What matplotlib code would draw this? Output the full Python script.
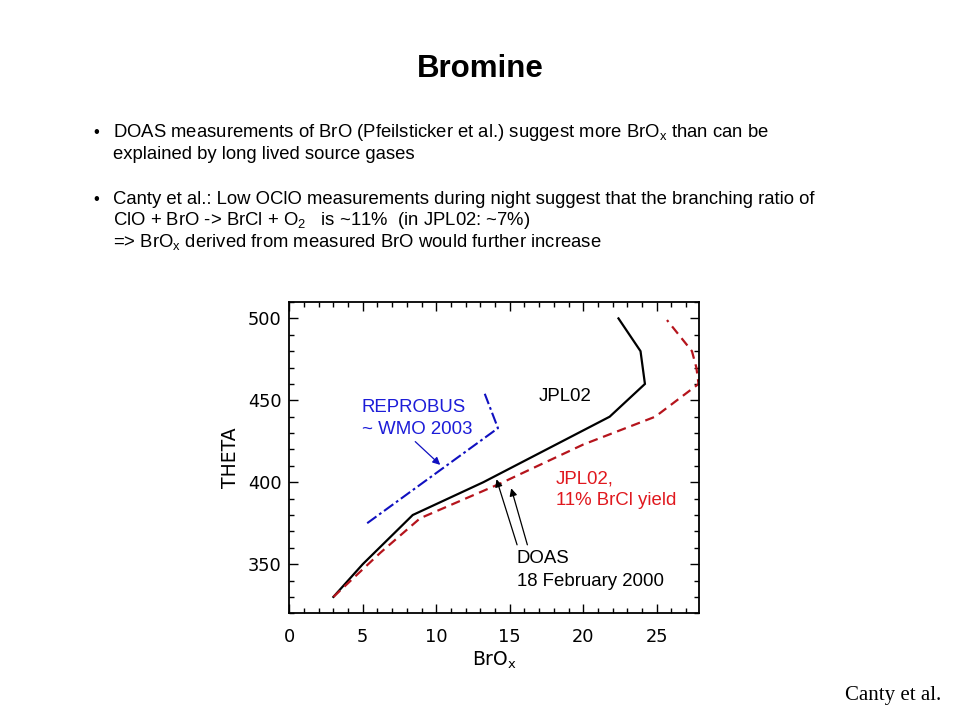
import matplotlib
matplotlib.use("Agg")
import matplotlib.pyplot as plt
from matplotlib.ticker import MultipleLocator

# ---- data ----
jpl_x = [3.0, 5.0, 8.4, 13.2, 17.5, 21.8, 24.2, 23.9, 22.4]
jpl_y = [330, 350, 380, 400, 420, 440, 460, 480, 500]

brcl_x = [3.0, 6.2, 8.9, 14.3, 20.0, 24.9, 27.85, 27.7, 27.4, 25.7]
brcl_y = [330, 357, 378, 399, 423, 440, 460, 470, 480, 499]

reprobus_x = [5.3, 14.2, 13.3]
reprobus_y = [375, 433, 454]

x_ticks = [0, 5, 10, 15, 20, 25]
y_ticks = [350, 400, 450, 500]

title = "Bromine"
bullet_lines = [
    "DOAS measurements of BrO (Pfeilsticker et al.) suggest more BrO$_\\mathregular{x}$ than can be",
    "explained by long lived source gases",
    "Canty et al.: Low OClO measurements during night suggest that the branching ratio of",
    "ClO + BrO -> BrCl + O$_\\mathregular{2}$   is ~11%  (in JPL02: ~7%)",
    "=> BrO$_\\mathregular{x}$ derived from measured BrO would further increase",
]

SANS = "Liberation Sans"

fig = plt.figure(figsize=(9.6, 7.2), dpi=100)
fig.patch.set_facecolor("white")

# Title
fig.text(480 / 960, 1 - 77.3 / 720, title, ha="center", va="baseline",
         fontsize=22.5, fontweight="bold", family=SANS)

# Bullets
baselines = [137.3, 158.7, 204.0, 225.3, 247.3]
for i, (line, yb) in enumerate(zip(bullet_lines, baselines)):
    fig.text(113 / 960, 1 - yb / 720, line, ha="left", va="baseline",
             fontsize=13.3, family=SANS)
for yb in (baselines[0], baselines[2]):
    fig.text(96.5 / 960, 1 - yb / 720, "\u2022", ha="center", va="baseline",
             fontsize=12, family=SANS)

# Source
fig.text(845 / 960, 1 - 700 / 720, "Canty et al.", ha="left", va="baseline",
         fontsize=15, family="Liberation Serif")

# Axes
left, right, top, bottom = 289.3, 699.3, 301.7, 613.3
ax = fig.add_axes([left / 960, 1 - bottom / 720, (right - left) / 960, (bottom - top) / 720])
ax.set_xlim(0, 27.9)
ax.set_ylim(320, 510.2)

ax.plot(jpl_x, jpl_y, color="black", lw=1.6, solid_joinstyle="miter")
ax.plot(brcl_x, brcl_y, color="#b5141c", lw=1.6, dashes=(4.2, 2.6))
ax.plot(reprobus_x, reprobus_y, color="#1010c0", lw=1.5, dashes=(5.5, 1.6, 1.3, 1.6))

ax.set_xticks(x_ticks)
ax.set_yticks(y_ticks)
ax.xaxis.set_minor_locator(MultipleLocator(1))
ax.yaxis.set_minor_locator(MultipleLocator(10))
ax.tick_params(which="both", direction="in", top=True, right=True, width=1.0, colors="black")
ax.tick_params(which="major", length=6.5)
ax.tick_params(which="minor", length=3.5)
ax.tick_params(axis="x", which="major", pad=10.5, labelsize=12.8)
ax.tick_params(axis="y", which="major", pad=5.5, labelsize=12.8)
for sp in ax.spines.values():
    sp.set_linewidth(1.3)

ax.set_ylabel("THETA", fontsize=13.5, labelpad=6)
ax.set_xlabel("BrO$_\\mathregular{x}$", fontsize=13.5, labelpad=2.5)

# Annotations
tfs = 13.4
blue_txt = "#1c1cd8"
red_txt = "#e0181e"
ax.text(4.92, 443.0, "REPROBUS", color=blue_txt, fontsize=tfs, family=SANS, va="baseline")
ax.text(4.92, 429.5, "~ WMO 2003", color=blue_txt, fontsize=tfs, family=SANS, va="baseline")
ax.text(16.95, 449.6, "JPL02", color="black", fontsize=tfs, family=SANS, va="baseline")
ax.text(18.15, 399.4, "JPL02,", color=red_txt, fontsize=tfs, family=SANS, va="baseline")
ax.text(18.15, 386.2, "11% BrCl yield", color=red_txt, fontsize=tfs, family=SANS, va="baseline")
ax.text(15.47, 350.6, "DOAS", color="black", fontsize=tfs, family=SANS, va="baseline")
ax.text(15.47, 336.6, "18 February 2000", color="black", fontsize=tfs, family=SANS, va="baseline")

ax.annotate("", xy=(10.27, 410.6), xytext=(8.57, 424.8),
            arrowprops=dict(arrowstyle="-|>", color="#1010c0", lw=0.9,
                            mutation_scale=11, shrinkA=0, shrinkB=0))
ax.annotate("", xy=(14.1, 401.8), xytext=(15.5, 361.8),
            arrowprops=dict(arrowstyle="-|>", color="black", lw=0.9,
                            mutation_scale=11, shrinkA=0, shrinkB=0))
ax.annotate("", xy=(15.1, 396.3), xytext=(16.2, 361.8),
            arrowprops=dict(arrowstyle="-|>", color="black", lw=0.9,
                            mutation_scale=11, shrinkA=0, shrinkB=0))

fig.savefig("out.png", dpi=100)
